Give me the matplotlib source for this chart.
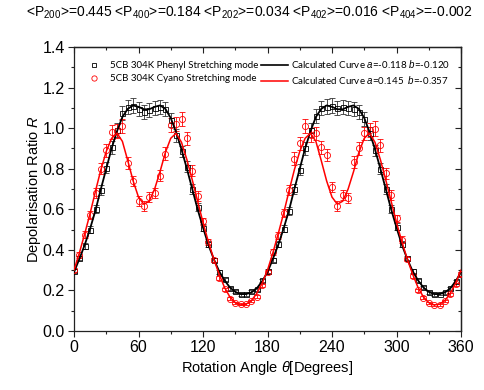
import matplotlib
matplotlib.use("Agg")
import matplotlib.pyplot as plt
from matplotlib.ticker import MultipleLocator, FormatStrFormatter
from matplotlib.lines import Line2D

# ---------------- data ----------------
angles = [0, 5, 10, 15, 20, 25, 30, 35, 40, 45, 50, 55, 60, 65, 70, 75, 80, 85, 90,
          95, 100, 105, 110, 115, 120, 125, 130, 135, 140, 145, 150, 155, 160, 165, 170, 175,
          180, 185, 190, 195, 200, 205, 210, 215, 220, 225, 230, 235, 240, 245, 250, 255, 260,
          265, 270, 275, 280, 285, 290, 295, 300, 305, 310, 315, 320, 325, 330, 335, 340, 345,
          350, 355, 360]

phenyl_R = [0.295, 0.36, 0.42, 0.50, 0.60, 0.695, 0.805, 0.905, 0.99, 1.075, 1.105, 1.11,
            1.095, 1.08, 1.09, 1.10, 1.105, 1.095, 1.04, 0.965, 0.885, 0.81, 0.70, 0.61,
            0.51, 0.43, 0.35, 0.29, 0.255, 0.21, 0.195, 0.18, 0.18, 0.195, 0.205, 0.25,
            0.295, 0.35, 0.43, 0.505, 0.59, 0.70, 0.795, 0.90, 0.99, 1.06, 1.10, 1.105,
            1.11, 1.10, 1.105, 1.10, 1.095, 1.08, 1.045, 0.975, 0.89, 0.80, 0.70, 0.60,
            0.515, 0.43, 0.36, 0.295, 0.25, 0.215, 0.19, 0.18, 0.183, 0.19, 0.21, 0.245, 0.28]
phenyl_err = [0.010, 0.012, 0.014, 0.017, 0.020, 0.023, 0.026, 0.030, 0.033, 0.035, 0.036, 0.037,
              0.036, 0.036, 0.036, 0.036, 0.036, 0.036, 0.034, 0.032, 0.029, 0.027, 0.023, 0.020,
              0.017, 0.014, 0.012, 0.010, 0.008, 0.007, 0.006, 0.006, 0.006, 0.006, 0.007, 0.008,
              0.010, 0.012, 0.014, 0.017, 0.020, 0.023, 0.026, 0.030, 0.033, 0.035, 0.036, 0.037,
              0.037, 0.036, 0.036, 0.036, 0.036, 0.036, 0.034, 0.032, 0.029, 0.026, 0.023, 0.020,
              0.017, 0.014, 0.012, 0.010, 0.008, 0.007, 0.006, 0.006, 0.006, 0.006, 0.007, 0.008, 0.009]

cyano_R = [0.30, 0.375, 0.475, 0.57, 0.68, 0.80, 0.89, 0.98, 0.985, 1.01, 0.83, 0.74,
           0.64, 0.615, 0.66, 0.68, 0.765, 0.875, 1.015, 1.02, 1.045, 0.95, 0.79, 0.665,
           0.54, 0.44, 0.35, 0.26, 0.205, 0.16, 0.14, 0.135, 0.135, 0.15, 0.17, 0.225,
           0.29, 0.39, 0.47, 0.58, 0.695, 0.85, 0.925, 1.01, 0.965, 0.974, 0.905, 0.867,
           0.708, 0.616, 0.67, 0.654, 0.834, 0.90, 0.974, 0.99, 0.998, 0.916, 0.777, 0.67,
           0.555, 0.45, 0.355, 0.27, 0.20, 0.165, 0.14, 0.13, 0.13, 0.15, 0.18, 0.23, 0.28]
cyano_err = [0.011, 0.013, 0.017, 0.020, 0.024, 0.028, 0.031, 0.034, 0.034, 0.035, 0.029, 0.026,
             0.024, 0.024, 0.024, 0.024, 0.027, 0.031, 0.035, 0.036, 0.036, 0.033, 0.028, 0.023,
             0.019, 0.015, 0.012, 0.009, 0.007, 0.006, 0.005, 0.005, 0.005, 0.005, 0.006, 0.008,
             0.010, 0.014, 0.016, 0.020, 0.024, 0.030, 0.032, 0.035, 0.034, 0.034, 0.032, 0.030,
             0.025, 0.024, 0.024, 0.024, 0.029, 0.031, 0.034, 0.035, 0.035, 0.032, 0.027, 0.023,
             0.019, 0.016, 0.012, 0.009, 0.007, 0.006, 0.005, 0.005, 0.005, 0.005, 0.006, 0.008, 0.010]

phenyl_fit = [0.29, 0.355, 0.425, 0.505, 0.595, 0.70, 0.80, 0.90, 0.985, 1.055, 1.095, 1.112,
              1.105, 1.093, 1.093, 1.105, 1.112, 1.095, 1.05, 0.98, 0.895, 0.80, 0.70, 0.60,
              0.51, 0.425, 0.355, 0.295, 0.25, 0.215, 0.193, 0.182, 0.182, 0.19, 0.21, 0.245,
              0.29, 0.355, 0.425, 0.505, 0.595, 0.70, 0.80, 0.90, 0.985, 1.055, 1.095, 1.112,
              1.105, 1.093, 1.093, 1.105, 1.112, 1.095, 1.05, 0.98, 0.895, 0.80, 0.70, 0.60,
              0.51, 0.425, 0.355, 0.295, 0.25, 0.215, 0.193, 0.182, 0.182, 0.19, 0.21, 0.245, 0.29]
cyano_fit = [0.30, 0.385, 0.48, 0.58, 0.69, 0.795, 0.885, 0.95, 0.975, 0.935, 0.84, 0.74,
             0.66, 0.625, 0.64, 0.70, 0.785, 0.88, 0.95, 0.975, 0.93, 0.845, 0.745, 0.64,
             0.535, 0.44, 0.355, 0.28, 0.215, 0.168, 0.14, 0.128, 0.132, 0.15, 0.185, 0.235,
             0.30, 0.385, 0.48, 0.58, 0.69, 0.795, 0.885, 0.95, 0.975, 0.935, 0.84, 0.74,
             0.66, 0.625, 0.64, 0.70, 0.785, 0.88, 0.95, 0.975, 0.93, 0.845, 0.745, 0.64,
             0.535, 0.44, 0.355, 0.28, 0.215, 0.168, 0.14, 0.128, 0.132, 0.15, 0.185, 0.235, 0.30]

title_text = (r"<P$_{200}$>=0.445 <P$_{400}$>=0.184 <P$_{202}$>=0.034 "
              r"<P$_{402}$>=0.016 <P$_{404}$>=-0.002")
label_phenyl = "5CB 304K Phenyl Stretching mode"
label_cyano = "5CB 304K Cyano Stretching mode"
label_fit_phenyl = r"Calculated Curve $a$=-0.118 $b$=-0.120"
label_fit_cyano = r"Calculated Curve $a$=0.145  $b$=-0.357"

# ---------------- style ----------------
plt.rcParams['font.family'] = ['Liberation Sans', 'DejaVu Sans']
plt.rcParams['mathtext.fontset'] = 'custom'
plt.rcParams['mathtext.rm'] = 'Liberation Sans'
plt.rcParams['mathtext.it'] = 'Liberation Sans:italic'
plt.rcParams['mathtext.bf'] = 'Liberation Sans:bold'

fig = plt.figure(figsize=(4.85, 3.90), dpi=100)
ax = fig.add_axes([74/485, 1-331/390, (461-74)/485, (331-47)/390])

ax.errorbar(angles, phenyl_R, yerr=phenyl_err, fmt='s', ms=3.6, mfc='none', mec='black',
            mew=0.6, ecolor='#333333', elinewidth=0.6, capsize=2.0, capthick=0.6, zorder=3)
ax.errorbar(angles, cyano_R, yerr=cyano_err, fmt='o', ms=4.4, mfc='none', mec='red',
            mew=0.6, ecolor='red', elinewidth=0.6, capsize=2.0, capthick=0.6, zorder=3)
ax.plot(angles, phenyl_fit, color='black', lw=1.3, zorder=4)
ax.plot(angles, cyano_fit, color='red', lw=1.1, zorder=5)

ax.set_xlim(0, 360)
ax.set_ylim(0, 1.4)
ax.xaxis.set_major_locator(MultipleLocator(60))
ax.xaxis.set_minor_locator(MultipleLocator(30))
ax.yaxis.set_major_locator(MultipleLocator(0.2))
ax.yaxis.set_minor_locator(MultipleLocator(0.1))
ax.yaxis.set_major_formatter(FormatStrFormatter('%.1f'))
ax.tick_params(which='both', direction='out', labelsize=11.5, width=0.8, colors='#222222',
               labelcolor='black')
ax.tick_params(which='major', length=4, pad=2.5)
ax.tick_params(which='minor', length=2.2)
for s in ax.spines.values():
    s.set_linewidth(0.9)
    s.set_color('#222222')

secx = ax.secondary_xaxis('top')
secx.xaxis.set_major_locator(MultipleLocator(60))
secx.xaxis.set_minor_locator(MultipleLocator(30))
secx.tick_params(which='both', direction='in', labeltop=False, width=0.8, colors='#222222')
secx.tick_params(which='major', length=4)
secx.tick_params(which='minor', length=2.2)
secx.spines['top'].set_linewidth(0.9)
secy = ax.secondary_yaxis('right')
secy.yaxis.set_major_locator(MultipleLocator(0.2))
secy.yaxis.set_minor_locator(MultipleLocator(0.1))
secy.tick_params(which='both', direction='in', labelright=False, width=0.8, colors='#222222')
secy.tick_params(which='major', length=4)
secy.tick_params(which='minor', length=2.2)
secy.spines['right'].set_linewidth(0.9)

ax.set_xlabel(r"Rotation Angle $\theta$[Degrees]", fontsize=10.5, labelpad=3)
ax.set_ylabel(r"Depolarisation Ratio $R$", fontsize=10.5, labelpad=0)

fig.text(0.515, 0.968, title_text, ha='center', va='center', fontsize=10.0)

h1 = Line2D([], [], ls='none', marker='s', ms=3.3, mfc='none', mec='black', mew=0.6)
h2 = Line2D([], [], ls='none', marker='o', ms=3.8, mfc='none', mec='red', mew=0.6)
h3 = Line2D([], [], color='black', lw=1.2)
h4 = Line2D([], [], color='red', lw=1.1)
leg = fig.legend([h1, h2, h3, h4], [label_phenyl, label_cyano, label_fit_phenyl, label_fit_cyano],
                 ncol=2, loc='upper left', bbox_to_anchor=(81/485, 1-58/390),
                 frameon=False, borderpad=0, borderaxespad=0, handlelength=2.7,
                 handletextpad=0.3, columnspacing=0.3, labelspacing=0.45,
                 prop={'family': ['Lato', 'DejaVu Sans'], 'size': 7.0})

fig.savefig("out.png", dpi=100)
